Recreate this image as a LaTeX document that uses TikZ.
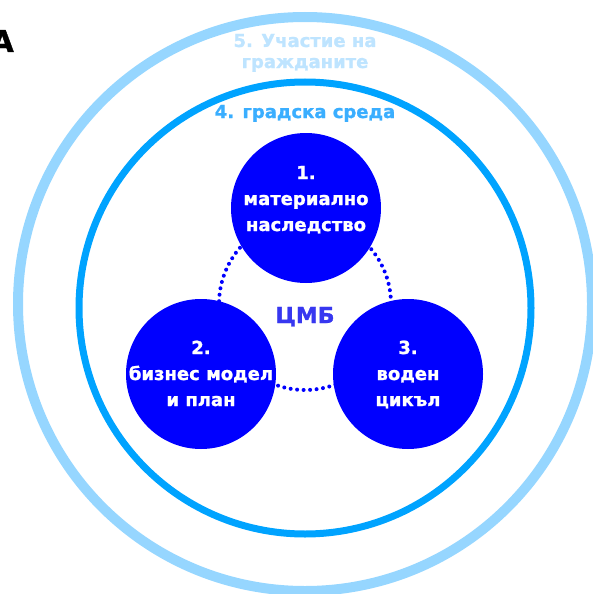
\documentclass[tikz,border=0pt]{standalone}
\usepackage{fontspec}
\setmainfont{DejaVu Sans}[BoldFeatures={FakeBold=1.2}]

\definecolor{ringlight}{HTML}{96D6FF}
\definecolor{ringmid}{HTML}{00A3FF}
\definecolor{pillarblue}{HTML}{0000FF}
\definecolor{cmbtext}{HTML}{3737F0}
\definecolor{urbantext}{HTML}{3AAEFF}
\definecolor{citizentext}{HTML}{BEE4FF}

\tikzset{
  outerring/.style={draw=ringlight, line width=10pt},
  innerring/.style={draw=ringmid, line width=7pt},
  pillar/.style={circle, fill=pillarblue, minimum size=150pt, inner sep=0pt},
  pillartext/.style={text=white, font=\bfseries\fontsize{18}{26}\selectfont, align=center, inner sep=0pt, anchor=base},
  ringtext/.style={font=\bfseries\fontsize{18}{21}\selectfont, align=center, inner sep=0pt, anchor=base},
  dotring/.style={draw=pillarblue, line width=4pt, line cap=round, dash pattern=on 0pt off 6.5pt}
}

\begin{document}
\begin{tikzpicture}[x=1pt,y=-1pt]
\useasboundingbox (0,0) rectangle (592,594);

% draw rings
\coordinate (outerc) at (305,304);
\coordinate (innerc) at (305,308);
\coordinate (dotc) at (305,304);
\draw[outerring] (outerc) circle (287);
\draw[innerring] (innerc) circle (226);
\draw[dotring] (dotc) circle (86);

% draw pillars
\node[pillar] (heritage) at (306,208) {};
\node[pillar] (business) at (201,374) {};
\node[pillar] (water) at (408,374) {};

% draw labels (base is the last line)
\node[pillartext] (heritagetxt) at (306,231) {1.\\материално\\наследство};
\node[pillartext] (businesstxt) at (201,406) {2.\\бизнес модел\\и план};
\node[pillartext] (watertxt) at (408,406) {3.\\воден\\цикъл};

\node[font=\bfseries\fontsize{22}{22}\selectfont, text=cmbtext, inner sep=0pt, anchor=base] (cmb) at (305,323) {ЦМБ};
\node[ringtext, text=urbantext] (urban) at (305,118) {4. градска среда};
\node[ringtext, text=citizentext] (citizens) at (305,68) {5. Участие на\\гражданите};

\node[font=\bfseries\fontsize{30}{30}\selectfont, inner sep=0pt, anchor=base east] (edge) at (14,52) {А};

\end{tikzpicture}
\end{document}
